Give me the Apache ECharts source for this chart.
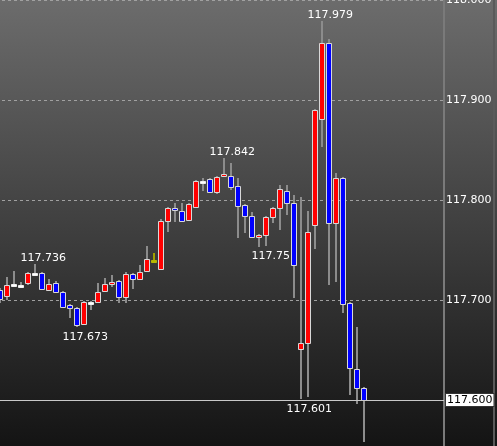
<!DOCTYPE html>
<html>
<head>
<meta charset="utf-8">
<script src="https://cdn.jsdelivr.net/npm/echarts@6/dist/echarts.min.js"></script>
<style>
  html, body { margin: 0; padding: 0; background: #222; }
  #main { width: 497px; height: 446px; }
</style>
</head>
<body>
<div id="main"></div>
<script>
// candle data (one entry per bar, left to right)
var opens  = [117.710, 117.704, 117.716, 117.715, 117.717, 117.727, 117.727, 117.710, 117.717, 117.708,
              117.695, 117.692, 117.676, 117.698, 117.698, 117.709, 117.717, 117.719, 117.703, 117.726,
              117.721, 117.729, 117.740, 117.731, 117.779, 117.792, 117.789, 117.780, 117.793, 117.819,
              117.821, 117.808, 117.824, 117.824, 117.814, 117.795, 117.784, 117.763, 117.765, 117.783,
              117.792, 117.809, 117.797, 117.651, 117.657, 117.775, 117.881, 117.957, 117.777, 117.822,
              117.697, 117.631, 117.612];
var closes = [117.701, 117.715, 117.716, 117.715, 117.727, 117.727, 117.711, 117.716, 117.708, 117.693,
              117.692, 117.675, 117.698, 117.698, 117.708, 117.716, 117.718, 117.703, 117.726, 117.721,
              117.728, 117.741, 117.740, 117.779, 117.792, 117.790, 117.779, 117.796, 117.819, 117.819,
              117.808, 117.823, 117.826, 117.813, 117.794, 117.784, 117.763, 117.765, 117.783, 117.792,
              117.811, 117.797, 117.735, 117.657, 117.768, 117.890, 117.957, 117.777, 117.822, 117.696,
              117.632, 117.612, 117.600];
var lows   = [117.697, 117.700, 117.715, 117.714, 117.715, 117.726, 117.710, 117.709, 117.707, 117.692,
              117.682, 117.673, 117.675, 117.690, 117.697, 117.708, 117.713, 117.697, 117.697, 117.711,
              117.720, 117.728, 117.740, 117.730, 117.768, 117.778, 117.778, 117.779, 117.792, 117.809,
              117.807, 117.806, 117.823, 117.810, 117.762, 117.767, 117.762, 117.753, 117.754, 117.777,
              117.770, 117.785, 117.702, 117.601, 117.603, 117.751, 117.853, 117.715, 117.718, 117.687,
              117.605, 117.596, 117.558];
var highs  = [117.712, 117.723, 117.729, 117.718, 117.728, 117.736, 117.728, 117.721, 117.719, 117.709,
              117.696, 117.693, 117.699, 117.699, 117.717, 117.722, 117.725, 117.720, 117.728, 117.727,
              117.735, 117.754, 117.747, 117.781, 117.793, 117.797, 117.797, 117.797, 117.820, 117.822,
              117.822, 117.824, 117.842, 117.837, 117.822, 117.796, 117.788, 117.766, 117.784, 117.793,
              117.815, 117.815, 117.805, 117.803, 117.789, 117.891, 117.979, 117.961, 117.827, 117.823,
              117.698, 117.673, 117.613];
var specialBar = 22; // the yellow doji

// high / low annotations
var noteIdx  = [5, 11, 32, 38, 43, 46];
var noteVal  = [117.736, 117.673, 117.842, 117.754, 117.601, 117.979];
var noteText = ['117.736', '117.673', '117.842', '117.75', '117.601', '117.979'];
var noteSide = ['high', 'low', 'high', 'low', 'low', 'high'];

var yTicks = [117.6, 117.7, 117.8, 117.9, 118.0];
var lastPrice = 117.600;

var slots = 64; // empty room on the right of the last bar
var cats = [];
for (var i = 0; i < slots; i++) cats.push(String(i));

var candleData = opens.map(function (o, i) {
  return [i, o, closes[i], lows[i], highs[i]];
});
var noteData = noteIdx.map(function (k, i) { return [k, noteVal[i]]; });

var chart = echarts.init(document.getElementById('main'));

function renderCandle(params, api) {
  var i = api.value(0);
  var o = api.value(1), c = api.value(2), l = api.value(3), h = api.value(4);
  var pO = api.coord([i, o]), pC = api.coord([i, c]);
  var pL = api.coord([i, l]), pH = api.coord([i, h]);
  var cx = pO[0];
  var wx = Math.round(cx);
  var top = Math.round(Math.min(pO[1], pC[1])) + 0.5;
  var bot = Math.round(Math.max(pO[1], pC[1])) + 0.5;
  if (bot - top < 2) bot = top + 2;
  var fill, stroke = '#d8d8d8', wick = '#8c8c8c';
  if (i === specialBar) { fill = '#b8b800'; stroke = '#b8b800'; wick = '#a0a000'; }
  else if (o === c) { fill = '#ffffff'; stroke = '#f0f0f0'; }
  else if (c > o) fill = '#ff0000';
  else fill = '#0000ff';
  return {
    type: 'group',
    children: [
      { type: 'line', shape: { x1: wx, y1: pH[1], x2: wx, y2: pL[1] },
        style: { stroke: wick, lineWidth: 2 } },
      { type: 'rect', shape: { x: Math.floor(cx) - 1.5, y: top, width: 5, height: bot - top },
        style: { fill: fill, stroke: stroke, lineWidth: 1 } }
    ]
  };
}

function renderNote(params, api) {
  var k = params.dataIndex;
  var p = api.coord([api.value(0), api.value(1)]);
  var y = noteSide[k] === 'high' ? p[1] - 5.5 : p[1] + 10;
  return {
    type: 'text',
    style: {
      x: p[0] - 14, y: y, text: noteText[k],
      fill: '#ffffff', font: '11px "DejaVu Sans"',
      align: 'left', verticalAlign: 'middle'
    }
  };
}

var option = {
  backgroundColor: {
    type: 'linear', x: 0, y: 0, x2: 0, y2: 1,
    colorStops: [{ offset: 0, color: '#6c6c6c' }, { offset: 1, color: '#141414' }]
  },
  animation: false,
  grid: { left: -4, width: 448, top: 0, height: 500, outerBoundsMode: 'none', containLabel: false },
  xAxis: {
    type: 'category',
    data: cats,
    boundaryGap: true,
    show: false
  },
  yAxis: {
    type: 'value',
    position: 'right',
    min: 117.5,
    max: 118.0,
    interval: 0.1,
    axisLine: { show: true, lineStyle: { color: '#7a7a7a', width: 2 } },
    axisTick: { show: false },
    axisLabel: {
      margin: 2,
      color: '#ffffff',
      fontSize: 11,
      fontFamily: 'DejaVu Sans',
      formatter: function (v) {
        if (Math.abs(v - lastPrice) < 1e-6) return '';
        for (var t = 0; t < yTicks.length; t++) {
          if (Math.abs(v - yTicks[t]) < 1e-6) return v.toFixed(3);
        }
        return '';
      }
    },
    splitLine: { show: true, lineStyle: { color: '#a0a0a0', type: [3, 3], width: 1 } }
  },
  graphic: [
    { type: 'line', shape: { x1: 494, y1: 0, x2: 494, y2: 446 },
      style: { stroke: '#5a5a5a', lineWidth: 2 }, silent: true }
  ],
  series: [
    {
      type: 'custom',
      name: 'notes',
      z: 2,
      renderItem: renderNote,
      data: noteData,
      silent: true
    },
    {
      type: 'custom',
      name: 'price',
      z: 3,
      renderItem: renderCandle,
      encode: { x: 0, y: [1, 2, 3, 4] },
      data: candleData,
      clip: false
    },
    {
      type: 'line',
      name: 'last',
      data: [],
      z: 4,
      markLine: {
        silent: true,
        symbol: 'none',
        lineStyle: { color: '#c8c8c8', type: 'solid', width: 1 },
        label: {
          position: 'end',
          distance: 2,
          formatter: lastPrice.toFixed(3),
          color: '#000000',
          fontSize: 11,
          fontFamily: 'DejaVu Sans',
          backgroundColor: '#ffffff',
          borderColor: '#333333',
          borderWidth: 1,
          padding: [1, 1, 0, 1]
        },
        data: [{ yAxis: lastPrice }]
      }
    }
  ]
};

chart.setOption(option);
</script>
</body>
</html>
